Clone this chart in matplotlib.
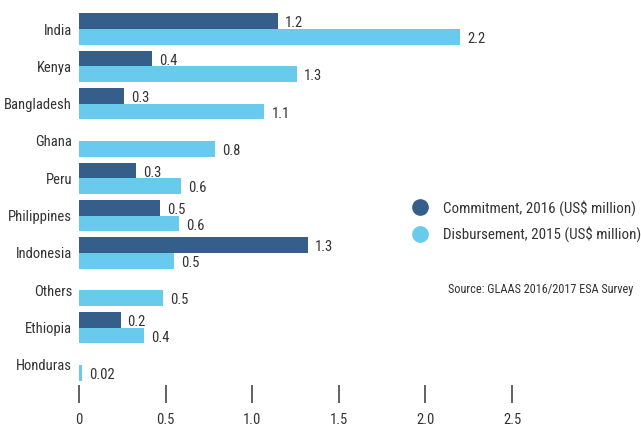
import matplotlib
matplotlib.use("Agg")
import matplotlib.pyplot as plt
from matplotlib import font_manager as fm
import numpy as np
from matplotlib.lines import Line2D

countries = ["India", "Kenya", "Bangladesh", "Ghana", "Peru", "Philippines",
             "Indonesia", "Others", "Ethiopia", "Honduras"]
commitment = [1.15, 0.42, 0.26, np.nan, 0.33, 0.47, 1.32, np.nan, 0.24, np.nan]
commit_labels = ["1.2", "0.4", "0.3", "", "0.3", "0.5", "1.3", "", "0.2", ""]
disbursement = [2.2, 1.26, 1.07, 0.785, 0.59, 0.58, 0.55, 0.485, 0.375, 0.02]
disb_labels = ["2.2", "1.3", "1.1", "0.8", "0.6", "0.6", "0.5", "0.5", "0.4", "0.02"]
xticks = [0, 0.5, 1.0, 1.5, 2.0, 2.5]
xtick_labels = ["0", "0.5", "1.0", "1.5", "2.0", "2.5"]

# pick a condensed font if available
cands = []
for f in fm.fontManager.ttflist:
    nm = f.name + " " + str(f.fname)
    low = nm.lower()
    if ("condensed" in low or "narrow" in low or str(f.stretch) in ("condensed", "semi-condensed", "extra-condensed")) \
            and f.style == "normal" and (f.weight in (400, "normal", "regular")) \
            and "semi" not in low and "extra" not in low and "ultra" not in low:
        cands.append(f)
pref = ["Liberation Sans Narrow", "Roboto Condensed", "Open Sans Condensed", "Noto Sans", "DejaVu Sans"]
chosen = None
for p in pref:
    for f in cands:
        if f.name.startswith(p):
            chosen = f
            break
    if chosen:
        break
if chosen is None and cands:
    chosen = cands[0]
if chosen is not None:
    FP = lambda s: fm.FontProperties(fname=chosen.fname, size=s)
else:
    FP = lambda s: fm.FontProperties(family="DejaVu Sans", size=s * 0.85)

dark = "#365E8B"
light = "#68CBEE"
txt = "#333333"

W, H = 641, 428
fig = plt.figure(figsize=(W / 100, H / 100), dpi=100)
px_per_unit = 173.2
x0 = 79
xmax = 3.2
top_px, bot_px = 5, 385
ax = fig.add_axes([x0 / W, 1 - bot_px / H, xmax * px_per_unit / W, (bot_px - top_px) / H])
step = 37.33
c0 = 29
ax.set_xlim(0, xmax)
ax.set_ylim((bot_px - c0) / step, (top_px - c0) / step)

y = np.arange(len(countries))
h = 0.42
ax.barh(y - h / 2, commitment, height=h, color=dark, linewidth=0)
ax.barh(y + h / 2, disbursement, height=h, color=light, linewidth=0)

off = 7 / px_per_unit
for i in range(len(countries)):
    if not np.isnan(commitment[i]):
        ax.text(commitment[i] + off, y[i] - h / 2 + 0.06, commit_labels[i], va="center",
                ha="left", fontproperties=FP(10.5), color=txt)
    ax.text(disbursement[i] + off, y[i] + h / 2 + 0.06, disb_labels[i], va="center",
            ha="left", fontproperties=FP(10.5), color=txt)

ax.set_yticks(y)
ax.set_yticklabels(countries, fontproperties=FP(10.5), color=txt)
ax.tick_params(axis="y", length=0, pad=5)
ax.set_xticks(xticks)
ax.set_xticklabels(xtick_labels, fontproperties=FP(10.5), color=txt)
ax.tick_params(axis="x", length=13, width=1.3, color="#555555", pad=7, direction="out")
for s in ax.spines.values():
    s.set_visible(False)

fs_leg = 10.8
fpx = fs_leg * 100 / 72
handles = [Line2D([], [], marker="o", linestyle="none", markersize=11, color=dark,
                  label="Commitment, 2016 (US$ million)"),
           Line2D([], [], marker="o", linestyle="none", markersize=11, color=light,
                  label="Disbursement, 2015 (US$ million)")]
leg = fig.legend(handles=handles, loc="center left",
                 bbox_to_anchor=((420 - 0.5 * fpx) / W, 1 - 221 / H),
                 frameon=False, prop=FP(fs_leg), handletextpad=(443 - 420 - 0.5 * fpx) / fpx,
                 labelspacing=0.7, handlelength=1.0, borderaxespad=0, borderpad=0)
for t in leg.get_texts():
    t.set_color(txt)

fig.text(633 / W, 1 - 290 / H, "Source: GLAAS 2016/2017 ESA Survey", ha="right",
         va="center", fontproperties=FP(8.8), color=txt)

fig.savefig("out.png", dpi=100)
